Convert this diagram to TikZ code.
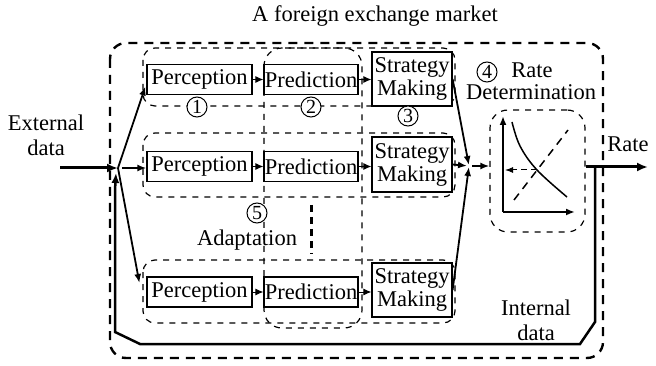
\documentclass[tikz,border=0pt]{standalone}
\usepackage{fontspec}
\setmainfont{Liberation Serif}
\usetikzlibrary{arrows.meta,calc}
\begin{document}
\begin{tikzpicture}[x=1pt,y=-1pt,
  txt/.style={font=\fontsize{22.5}{24}\selectfont, inner sep=0pt},
  box/.style={draw, fill=white, line width=1.2pt, minimum height=30pt, inner sep=0pt, font=\fontsize{22.5}{24}\selectfont},
  sbox/.style={box, align=center, minimum width=80pt, minimum height=54pt, font=\fontsize{22.5}{23}\selectfont},
  num/.style={circle, draw, line width=1pt, fill=white, minimum size=20pt, inner sep=0pt, font=\fontsize{20}{20}\selectfont},
  region/.style={draw, line width=1.2pt, dash pattern=on 6pt off 6pt},
  outerbox/.style={draw, line width=2.4pt, dash pattern=on 9pt off 7pt},
  arr/.style={line width=1.8pt, -{Latex[length=9pt,width=7pt]}},
  smallarr/.style={line width=1pt, -{Latex[length=8pt,width=7pt]}},
  heavy/.style={line width=3pt},
]
\useasboundingbox (0,0) rectangle (656,366);

% outer market box
\draw[outerbox, rounded corners=16] (110,43) rectangle (603,358);

% row bands and prediction column
\draw[region, rounded corners=12] (143,48) rectangle (455,106);
\draw[region, rounded corners=12] (143,133) rectangle (455,197);
\draw[region, rounded corners=12] (143,260) rectangle (455,323);
\draw[region, rounded corners=18] (264,48) rectangle (362,328);

% title
\node[txt, anchor=base] (title) at (375,22) {A foreign exchange market};

% agent boxes
\node[box, minimum width=105pt] (p1) at (199.5,79.5) {Perception};
\node[box, minimum width=105pt] (p2) at (199.5,166.5) {Perception};
\node[box, minimum width=105pt] (p3) at (199.5,292) {Perception};
\node[box, minimum width=94pt] (q1) at (311,79.5) {Prediction};
\node[box, minimum width=94pt] (q2) at (311,166.5) {Prediction};
\node[box, minimum width=94pt] (q3) at (311,292) {Prediction};
\node[sbox] (s1) at (412,79) {Strategy\\Making};
\node[sbox, minimum height=55pt] (s2) at (412,164.5) {Strategy\\Making};
\node[sbox] (s3) at (412,290) {Strategy\\Making};

\foreach \r in {1,2,3}{
  \draw[smallarr] (p\r.east) -- (q\r.west);
  \draw[smallarr] (q\r.east) -- (q\r.east -| s\r.west);
}

% numbers and labels
\node[num] (n1) at (197,107) {1};
\node[num] (n2) at (311,107) {2};
\node[num] (n3) at (408,116) {3};
\node[num] (n4) at (487,72) {4};
\node[num] (n5) at (257,213) {5};
\node[txt, anchor=base] (ratelbl) at (532,78) {Rate};
\node[txt, anchor=base] (detlbl) at (531,100) {Determination};
\node[txt, anchor=base] (adapt) at (247,245) {Adaptation};
\node[txt, anchor=base] (int1) at (536,315) {Internal};
\node[txt, anchor=base] (int2) at (536,340) {data};
\node[txt, anchor=base] (ratein) at (628,152) {Rate};
\node[txt, align=center, font=\fontsize{22.5}{25}\selectfont] (ext) at (46,135) {External\\data};

% more agents
\draw[line width=3pt, dash pattern=on 7pt off 5pt] (311,205) -- (311,254);

% rate determination
\node[region, rounded corners=18, minimum width=95pt, minimum height=122pt, inner sep=0pt] (rd) at (537.5,171) {};
\coordinate (org) at (503,212);
\draw[line width=1.8pt, -{Latex[length=9pt,width=7pt]}] (org) -- (503,116);
\draw[line width=1.8pt, -{Latex[length=9pt,width=7pt]}] (org) -- (575,212);
\draw[line width=1.5pt] plot[smooth, tension=0.6] coordinates {(512,122) (520,146) (537,170) (567,197)};
\draw[line width=1.5pt, dash pattern=on 8pt off 6pt] (514,200) -- (568,130);
\draw[line width=1pt, dash pattern=on 6pt off 4pt, -{Latex[length=8pt,width=6pt]}] (537,170) -- (505,170);

% flows
\coordinate (extstart) at (60,168);
\coordinate (S) at (118,168);
\coordinate (conv) at (469,166);
\coordinate (rateend) at (648,167);
\coordinate (tap) at (595,167);
\coordinate (fbin) at (116,173);

\draw[heavy, -{Latex[length=11pt,width=9pt]}] (extstart) -- (S);
\draw[arr] (S) -- ($(p1.west)+(-1,7)$);
\draw[arr] ($(S)+(4,0)$) -- (p2.west |- S);
\draw[arr] (S) -- ($(p3.west)+(-7,-9)$);

\draw[arr, shorten >=1pt] (s1.east) -- (conv);
\draw[arr, shorten >=2pt] (s2.east) -- (conv);
\draw[arr, shorten >=1pt] (s3.east) -- (conv);
\draw[arr] ($(conv)+(3,0)$) -- (conv -| rd.west);

\draw[heavy, -{Latex[length=11pt,width=9pt]}] (rd.east |- rateend) -- (rateend);
\draw[line width=2.5pt, -{Latex[length=10pt,width=8pt]}] (tap) -- (595,322) -- (580,344) -- (140,344) -- (115,332) -- (115,190) -- (fbin);
\end{tikzpicture}
\end{document}
